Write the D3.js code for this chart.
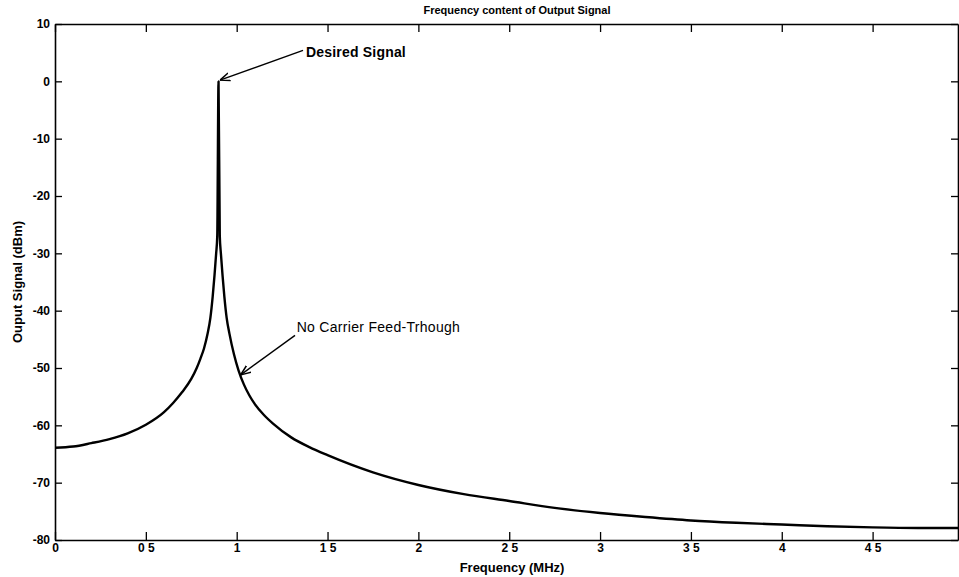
<!DOCTYPE html>
<html>
<head>
<meta charset="utf-8">
<script src="https://cdn.jsdelivr.net/npm/d3@7"></script>
<style>
  html, body { margin: 0; padding: 0; background: #fff; }
  svg { display: block; font-family: "Liberation Sans", Arial, Helvetica, sans-serif; }
</style>
</head>
<body>
<svg id="chart" width="959" height="577"></svg>
<script>
// ---- data ----
const freqMHz = [0, 0.1, 0.2, 0.3, 0.4, 0.5, 0.6, 0.65, 0.7, 0.75, 0.78, 0.8, 0.82, 0.84, 0.855, 0.868, 0.878, 0.887, 0.893, 0.9,
  0.907, 0.913, 0.922, 0.932, 0.945, 0.96, 0.985, 1.01, 1.04, 1.07, 1.1, 1.15, 1.2, 1.3, 1.4, 1.5, 1.75, 2.0, 2.25, 2.5, 2.75, 3.0,
  3.25, 3.5, 3.75, 4.0, 4.25, 4.5, 4.75, 4.97];
const outputDbm = [-63.9, -63.7, -63.1, -62.4, -61.4, -59.9, -57.7, -56.1, -54.2, -51.9, -50.0, -48.4, -46.6, -44.0, -41.3, -37.5, -33.8, -30.0, -27.0, 0,
  -27.0, -30.0, -33.8, -37.5, -41.3, -44.0, -47.6, -50.4, -52.9, -54.8, -56.3, -58.2, -59.7, -62.1, -63.8, -65.2, -68.2, -70.4, -72.0, -73.2, -74.4, -75.3,
  -76.0, -76.6, -77.0, -77.3, -77.6, -77.8, -77.9, -77.9];
const xTickValues = [0, 0.5, 1, 1.5, 2, 2.5, 3, 3.5, 4, 4.5];
const xTickLabels = ["0", "0 5", "1", "1 5", "2", "2 5", "3", "3 5", "4", "4 5"];
const yTickValues = [-80, -70, -60, -50, -40, -30, -20, -10, 0, 10];
const yTickLabels = ["-80", "-70", "-60", "-50", "-40", "-30", "-20", "-10", "0", "10"];
const xDomain = [0, 4.97];
const yDomain = [-80, 10];
const titleText = "Frequency content of Output Signal";
const xLabelText = "Frequency (MHz)";
const yLabelText = "Ouput Signal (dBm)";
// annotation anchor points in data units: arrow tip, arrow tail, text start
const annotations = [
  { text: "Desired Signal", at: [0.908, 0.2], from: [1.365, 5.4], label: [1.381, 4.2], bold: true },
  { text: "No Carrier Feed-Trhough", at: [1.022, -51.2], from: [1.321, -44.3], label: [1.33, -43.7], bold: false }
];

// ---- layout ----
const svg = d3.select("#chart");
const L = 55, R = 958, T = 24, B = 540;
const x = d3.scaleLinear().domain(xDomain).range([L, R]);
const y = d3.scaleLinear().domain(yDomain).range([B, T]);

svg.append("defs").append("marker")
  .attr("id", "arrow").attr("viewBox", "0 0 10 10").attr("refX", 10).attr("refY", 5)
  .attr("markerWidth", 10).attr("markerHeight", 10).attr("markerUnits", "userSpaceOnUse")
  .attr("orient", "auto")
  .append("path").attr("d", "M0,1 L10,5 L0,9").attr("fill", "none").attr("stroke", "#000").attr("stroke-width", 1.5);

// axes (MATLAB-like box with inward ticks)
const fmtX = (d, i) => xTickLabels[i];
const fmtY = (d, i) => yTickLabels[i];
const axB = svg.append("g").attr("transform", `translate(0,${B})`)
  .call(d3.axisBottom(x).tickValues(xTickValues).tickFormat(fmtX).tickSizeInner(-8).tickSizeOuter(0).tickPadding(3));
const axT = svg.append("g").attr("transform", `translate(0,${T})`)
  .call(d3.axisTop(x).tickValues(xTickValues).tickFormat("").tickSizeInner(-8).tickSizeOuter(0));
const axL = svg.append("g").attr("transform", `translate(${L},0)`)
  .call(d3.axisLeft(y).tickValues(yTickValues).tickFormat(fmtY).tickSizeInner(-7).tickSizeOuter(0).tickPadding(5));
const axR = svg.append("g").attr("transform", `translate(${R},0)`)
  .call(d3.axisRight(y).tickValues(yTickValues).tickFormat("").tickSizeInner(-7).tickSizeOuter(0));
[axB, axT, axL, axR].forEach(g => {
  g.select(".domain").attr("stroke", "#000").attr("stroke-width", 1.6);
  g.selectAll(".tick line").attr("stroke", "#000").attr("stroke-width", 1.3);
  g.selectAll(".tick text").attr("fill", "#000").attr("font-size", 12).attr("font-weight", "bold");
});

// curve
const line = d3.line().x((d, i) => x(freqMHz[i])).y((d, i) => y(outputDbm[i])).curve(d3.curveMonotoneX);
svg.append("path").datum(outputDbm).attr("d", line)
  .attr("fill", "none").attr("stroke", "#000").attr("stroke-width", 2.4).attr("stroke-linejoin", "round");

// annotations
annotations.forEach(a => {
  svg.append("line")
    .attr("x1", x(a.from[0])).attr("y1", y(a.from[1]))
    .attr("x2", x(a.at[0])).attr("y2", y(a.at[1]))
    .attr("stroke", "#000").attr("stroke-width", 1.4).attr("marker-end", "url(#arrow)");
  svg.append("text").attr("x", x(a.label[0])).attr("y", y(a.label[1]))
    .attr("font-size", 14).attr("letter-spacing", a.bold ? 0.2 : 0.3)
    .attr("font-weight", a.bold ? "bold" : "normal")
    .attr("fill", "#000").text(a.text);
});

// title and axis labels
svg.append("text").attr("x", 517).attr("y", 14).attr("text-anchor", "middle")
  .attr("font-size", 11).attr("font-weight", "bold").text(titleText);
svg.append("text").attr("x", 512).attr("y", 572).attr("text-anchor", "middle")
  .attr("font-size", 13).attr("font-weight", "bold").text(xLabelText);
svg.append("text").attr("transform", `translate(22,${(T + B) / 2}) rotate(-90)`).attr("text-anchor", "middle")
  .attr("font-size", 13).attr("font-weight", "bold").text(yLabelText);
</script>
</body>
</html>
